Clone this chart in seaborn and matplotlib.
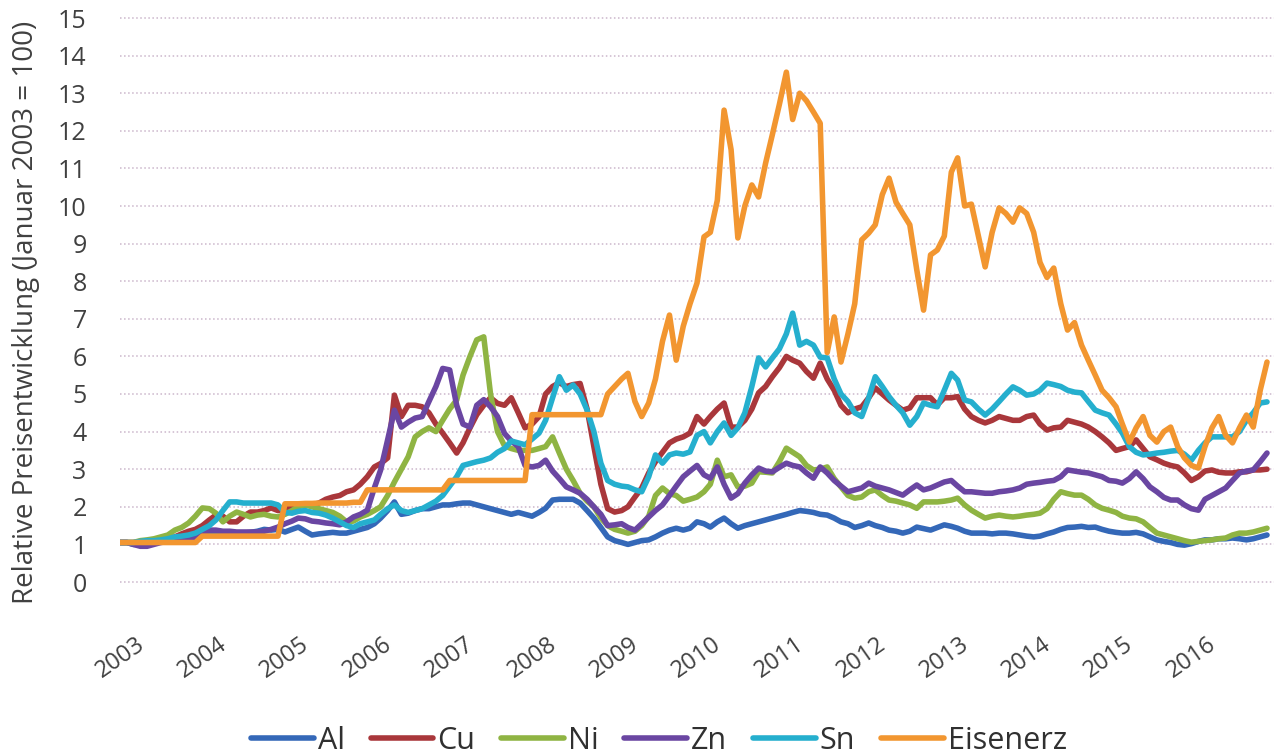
import numpy as np
import pandas as pd
import seaborn as sns
import matplotlib.pyplot as plt
from matplotlib.lines import Line2D

# monthly relative prices, January 2003 = 1
al = [1.05, 1.05, 1.0, 1.0, 1.02, 1.05, 1.08, 1.1, 1.1, 1.12, 1.15, 1.2,
      1.25, 1.3, 1.35, 1.3, 1.28, 1.3, 1.3, 1.32, 1.35, 1.4, 1.38, 1.4,
      1.33, 1.4, 1.46, 1.35, 1.25, 1.28, 1.3, 1.32, 1.3, 1.3, 1.35, 1.4,
      1.45, 1.55, 1.7, 1.9, 2.13, 1.8, 1.83, 1.9, 1.95, 1.95, 2.0, 2.05,
      2.05, 2.08, 2.1, 2.1, 2.05, 2.0, 1.95, 1.9, 1.85, 1.8, 1.85, 1.8,
      1.75, 1.85, 1.96, 2.18, 2.2, 2.2, 2.2, 2.1, 1.9, 1.7, 1.45, 1.2,
      1.1, 1.05, 1.0, 1.05, 1.1, 1.12, 1.2, 1.3, 1.38, 1.43, 1.38, 1.43,
      1.6, 1.55, 1.46, 1.6, 1.7, 1.55, 1.43, 1.5, 1.55, 1.6, 1.65, 1.7,
      1.75, 1.8, 1.85, 1.9, 1.88, 1.85, 1.8, 1.78, 1.7, 1.6, 1.55, 1.45,
      1.5, 1.57, 1.5, 1.45, 1.38, 1.35, 1.3, 1.35, 1.46, 1.42, 1.38, 1.45,
      1.52, 1.48, 1.43, 1.35, 1.3, 1.3, 1.3, 1.28, 1.3, 1.3, 1.28, 1.25,
      1.22, 1.2, 1.22, 1.28, 1.33, 1.4, 1.45, 1.46, 1.48, 1.45, 1.46, 1.4,
      1.35, 1.32, 1.3, 1.3, 1.32, 1.28, 1.2, 1.12, 1.08, 1.05, 1.0, 0.98,
      1.02, 1.08, 1.12, 1.12, 1.15, 1.15, 1.17, 1.15, 1.12, 1.15, 1.2, 1.25]

cu = [1.05, 1.05, 1.05, 1.05, 1.08, 1.1, 1.12, 1.15, 1.2, 1.28, 1.35, 1.4,
      1.5, 1.65, 1.78, 1.75, 1.6, 1.6, 1.75, 1.86, 1.86, 1.9, 1.97, 1.9,
      1.95, 2.0, 2.05, 2.05, 2.05, 2.1, 2.2, 2.26, 2.3, 2.4, 2.45, 2.6,
      2.8, 3.06, 3.15, 3.3, 4.97, 4.4, 4.7, 4.7, 4.66, 4.5, 4.2, 3.96,
      3.7, 3.43, 3.7, 4.1, 4.45, 4.7, 4.9, 4.75, 4.7, 4.9, 4.5, 4.1,
      4.2, 4.4, 5.0, 5.2, 5.3, 5.2, 5.25, 5.28, 4.6, 3.6, 2.6, 1.95,
      1.86, 1.9, 2.0, 2.26, 2.5, 2.9, 3.2, 3.45, 3.7, 3.8, 3.86, 3.96,
      4.4, 4.2, 4.4, 4.6, 4.76, 4.12, 4.12, 4.3, 4.6, 5.03, 5.2, 5.46,
      5.7, 6.0, 5.9, 5.82, 5.6, 5.42, 5.82, 5.4, 5.1, 4.7, 4.5, 4.6,
      4.66, 4.9, 5.16, 5.0, 4.84, 4.7, 4.57, 4.63, 4.9, 4.9, 4.9, 4.71,
      4.9, 4.9, 4.93, 4.6, 4.4, 4.3, 4.23, 4.3, 4.4, 4.35, 4.3, 4.3,
      4.4, 4.44, 4.2, 4.04, 4.1, 4.12, 4.3, 4.25, 4.2, 4.12, 4.0, 3.86,
      3.7, 3.5, 3.55, 3.6, 3.78, 3.55, 3.33, 3.25, 3.16, 3.1, 3.06, 2.9,
      2.7, 2.8, 2.95, 2.98, 2.92, 2.9, 2.9, 2.93, 2.93, 2.98, 2.98, 3.0]

ni = [1.05, 1.05, 1.05, 1.1, 1.12, 1.15, 1.2, 1.25, 1.38, 1.45, 1.57, 1.75,
      1.97, 1.95, 1.83, 1.6, 1.75, 1.86, 1.8, 1.73, 1.78, 1.8, 1.75, 1.73,
      1.8, 1.9, 2.0, 2.05, 2.0, 1.95, 1.9, 1.85, 1.75, 1.6, 1.62, 1.73,
      1.8, 1.9, 2.0, 2.3, 2.66, 3.0, 3.33, 3.86, 4.0, 4.1, 4.0, 4.3,
      4.6, 4.84, 5.5, 6.0, 6.44, 6.52, 5.0, 4.0, 3.62, 3.55, 3.5, 3.5,
      3.5, 3.55, 3.6, 3.86, 3.43, 3.0, 2.7, 2.36, 2.15, 2.0, 1.7, 1.5,
      1.4, 1.35, 1.3, 1.35, 1.5, 1.75, 2.3, 2.5, 2.35, 2.3, 2.15, 2.2,
      2.26, 2.4, 2.6, 3.24, 2.8, 2.85, 2.53, 2.55, 2.63, 2.93, 2.92, 2.9,
      3.2, 3.56, 3.45, 3.33, 3.1, 2.98, 3.0, 3.06, 2.75, 2.53, 2.3, 2.23,
      2.26, 2.4, 2.45, 2.3, 2.18, 2.15, 2.1, 2.05, 1.96, 2.13, 2.13, 2.13,
      2.15, 2.18, 2.23, 2.05, 1.91, 1.8, 1.7, 1.75, 1.78, 1.75, 1.73, 1.75,
      1.78, 1.8, 1.83, 1.95, 2.2, 2.4, 2.35, 2.31, 2.31, 2.2, 2.05, 1.96,
      1.91, 1.85, 1.75, 1.7, 1.68, 1.6, 1.45, 1.3, 1.25, 1.2, 1.15, 1.1,
      1.06, 1.08, 1.1, 1.12, 1.15, 1.17, 1.25, 1.3, 1.3, 1.33, 1.38, 1.43]

zn = [1.05, 1.05, 1.0, 0.95, 0.95, 1.0, 1.05, 1.08, 1.1, 1.12, 1.15, 1.2,
      1.3, 1.38, 1.38, 1.35, 1.35, 1.33, 1.33, 1.33, 1.33, 1.35, 1.4, 1.46,
      1.55, 1.62, 1.7, 1.68, 1.62, 1.6, 1.57, 1.55, 1.52, 1.6, 1.73, 1.8,
      1.91, 2.5, 2.98, 3.78, 4.57, 4.12, 4.25, 4.36, 4.4, 4.8, 5.2, 5.68,
      5.64, 4.7, 4.2, 4.12, 4.7, 4.85, 4.66, 4.4, 3.95, 3.75, 3.6, 3.1,
      3.06, 3.1, 3.24, 2.95, 2.75, 2.53, 2.45, 2.36, 2.2, 2.0, 1.8, 1.5,
      1.52, 1.55, 1.45, 1.38, 1.55, 1.73, 1.9, 2.05, 2.3, 2.55, 2.8, 2.95,
      3.1, 2.85, 2.76, 3.06, 2.6, 2.23, 2.35, 2.63, 2.85, 3.03, 2.95, 2.93,
      3.05, 3.16, 3.1, 3.06, 2.9, 2.76, 3.06, 2.9, 2.7, 2.55, 2.4, 2.45,
      2.5, 2.63, 2.55, 2.5, 2.45, 2.38, 2.31, 2.45, 2.58, 2.45, 2.5, 2.58,
      2.66, 2.7, 2.55, 2.4, 2.4, 2.38, 2.36, 2.36, 2.4, 2.42, 2.45, 2.5,
      2.6, 2.63, 2.65, 2.68, 2.7, 2.8, 2.98, 2.95, 2.92, 2.9, 2.85, 2.8,
      2.7, 2.68, 2.63, 2.75, 2.93, 2.75, 2.53, 2.4, 2.25, 2.18, 2.18, 2.05,
      1.95, 1.91, 2.2, 2.3, 2.4, 2.5, 2.7, 2.9, 2.95, 2.98, 3.2, 3.43]

sn = [1.05, 1.05, 1.05, 1.08, 1.1, 1.1, 1.12, 1.15, 1.2, 1.22, 1.25, 1.3,
      1.4, 1.5, 1.65, 1.9, 2.13, 2.13, 2.1, 2.1, 2.1, 2.1, 2.1, 2.05,
      1.85, 1.83, 1.88, 1.9, 1.85, 1.83, 1.78, 1.7, 1.6, 1.5, 1.45, 1.55,
      1.6, 1.65, 1.8, 1.95, 2.05, 1.9, 1.85, 1.9, 1.95, 2.05, 2.15, 2.3,
      2.55, 2.8, 3.1, 3.15, 3.2, 3.24, 3.3, 3.45, 3.55, 3.75, 3.7, 3.65,
      3.8, 3.96, 4.3, 4.9, 5.46, 5.1, 5.24, 5.0, 4.57, 4.0, 3.16, 2.7,
      2.6, 2.55, 2.53, 2.45, 2.4, 2.8, 3.38, 3.16, 3.38, 3.43, 3.4, 3.46,
      3.9, 4.0, 3.7, 4.0, 4.23, 3.9, 4.1, 4.5, 5.2, 5.96, 5.72, 5.96,
      6.2, 6.6, 7.15, 6.3, 6.4, 6.3, 5.98, 5.96, 5.4, 5.0, 4.8, 4.5,
      4.4, 4.9, 5.46, 5.2, 4.93, 4.7, 4.5, 4.17, 4.4, 4.76, 4.7, 4.66,
      5.1, 5.55, 5.37, 4.84, 4.79, 4.6, 4.44, 4.6, 4.8, 5.0, 5.19, 5.1,
      4.97, 5.0, 5.1, 5.29, 5.25, 5.2, 5.1, 5.05, 5.03, 4.8, 4.57, 4.5,
      4.44, 4.2, 3.96, 3.6, 3.45, 3.38, 3.4, 3.43, 3.45, 3.48, 3.5, 3.4,
      3.24, 3.5, 3.7, 3.86, 3.86, 3.86, 3.86, 4.0, 4.3, 4.5, 4.76, 4.79]

eisenerz = [1.05, 1.05, 1.05, 1.05, 1.05, 1.05, 1.05, 1.05, 1.05, 1.05, 1.05, 1.05,
            1.22, 1.22, 1.22, 1.22, 1.22, 1.22, 1.22, 1.22, 1.22, 1.22, 1.22, 1.22,
            2.08, 2.08, 2.08, 2.09, 2.09, 2.1, 2.1, 2.1, 2.1, 2.1, 2.12, 2.12,
            2.45, 2.45, 2.45, 2.45, 2.45, 2.45, 2.45, 2.45, 2.45, 2.45, 2.45, 2.45,
            2.7, 2.7, 2.7, 2.7, 2.7, 2.7, 2.7, 2.7, 2.7, 2.7, 2.7, 2.7,
            4.45, 4.45, 4.45, 4.45, 4.45, 4.45, 4.45, 4.45, 4.45, 4.45, 4.45, 5.0,
            5.2, 5.4, 5.55, 4.8, 4.4, 4.76, 5.4, 6.4, 7.1, 5.9, 6.8, 7.4,
            7.95, 9.18, 9.3, 10.15, 12.55, 11.5, 9.15, 10.0, 10.56, 10.24, 11.14, 11.9,
            12.7, 13.56, 12.3, 13.0, 12.8, 12.5, 12.2, 6.1, 7.05, 5.85, 6.6, 7.4,
            9.1, 9.28, 9.5, 10.3, 10.74, 10.1, 9.8, 9.5, 8.3, 7.23, 8.7, 8.83,
            9.2, 10.9, 11.28, 10.0, 10.05, 9.2, 8.38, 9.3, 9.95, 9.8, 9.57, 9.95,
            9.8, 9.3, 8.5, 8.1, 8.35, 7.4, 6.7, 6.9, 6.3, 5.9, 5.5, 5.1,
            4.9, 4.66, 4.2, 3.72, 4.1, 4.4, 3.9, 3.72, 4.0, 4.12, 3.6, 3.3,
            3.1, 3.03, 3.6, 4.1, 4.4, 3.9, 3.7, 4.1, 4.44, 4.12, 5.1, 5.85]

names = ['Al', 'Cu', 'Ni', 'Zn', 'Sn', 'Eisenerz']
colors = ['#3468b8', '#a9373b', '#8fb443', '#6a46a2', '#25afce', '#f29630']
years = list(range(2003, 2017))

months = pd.date_range('2003-01-01', periods=len(al), freq='MS')
df = pd.DataFrame({
    'Monat': np.tile(months, len(names)),
    'Wert': np.concatenate([al, cu, ni, zn, sn, eisenerz]),
    'Metall': np.repeat(names, len(al)),
})

sns.set_style('white')
plt.rcParams['font.family'] = ['Open Sans', 'DejaVu Sans']

W, H = 1274, 755
fig = plt.figure(figsize=(W / 100, H / 100), dpi=100)
# y = 0 at 582 px, y = 15 at 18 px; axes padded by 0.2 units
unit = (582 - 18) / 15
top_px = 18 - 0.2 * unit
bot_px = 582 + 0.2 * unit
ax = fig.add_axes([120 / W, 1 - bot_px / H, 1 - 120 / W, (bot_px - top_px) / H])

sns.lineplot(data=df, x='Monat', y='Wert', hue='Metall', hue_order=names,
             palette=dict(zip(names, colors)), linewidth=4, legend=False, ax=ax)

ax.set_ylim(-0.2, 15.2)
ax.set_xlim(pd.Timestamp('2003-01-01'), pd.Timestamp('2017-01-01'))
ax.set_yticks(range(16))
ax.set_xticks(pd.to_datetime([f'{y}-01-01' for y in years]))
ax.set_xticklabels([str(y) for y in years], rotation=35, ha='center')
ax.set_xlabel('')
ax.set_ylabel('Relative Preisentwicklung (Januar 2003 = 100)', fontsize=20,
              color='#404040')
ax.yaxis.set_label_coords((40 - 120) / 1154, (bot_px - 312) / (bot_px - top_px))
ax.grid(axis='y', color='#cbb6cb', linestyle=':', linewidth=1.1)
ax.grid(axis='x', visible=False)
ax.tick_params(axis='y', length=0, labelsize=18, pad=24, colors='#404040')
ax.tick_params(axis='x', length=0, labelsize=17, pad=31, colors='#404040')
sns.despine(ax=ax, left=True, bottom=True)

handles = [Line2D([], [], color=c, linewidth=4) for c in colors]
fig.legend(handles, names, loc='center', bbox_to_anchor=(659 / W, 1 - 741 / H),
           ncol=6, frameon=False, fontsize=22, handlelength=2.05,
           handletextpad=0.13, columnspacing=0.85, labelcolor='#303030')

fig.savefig('out.png', dpi=100)
